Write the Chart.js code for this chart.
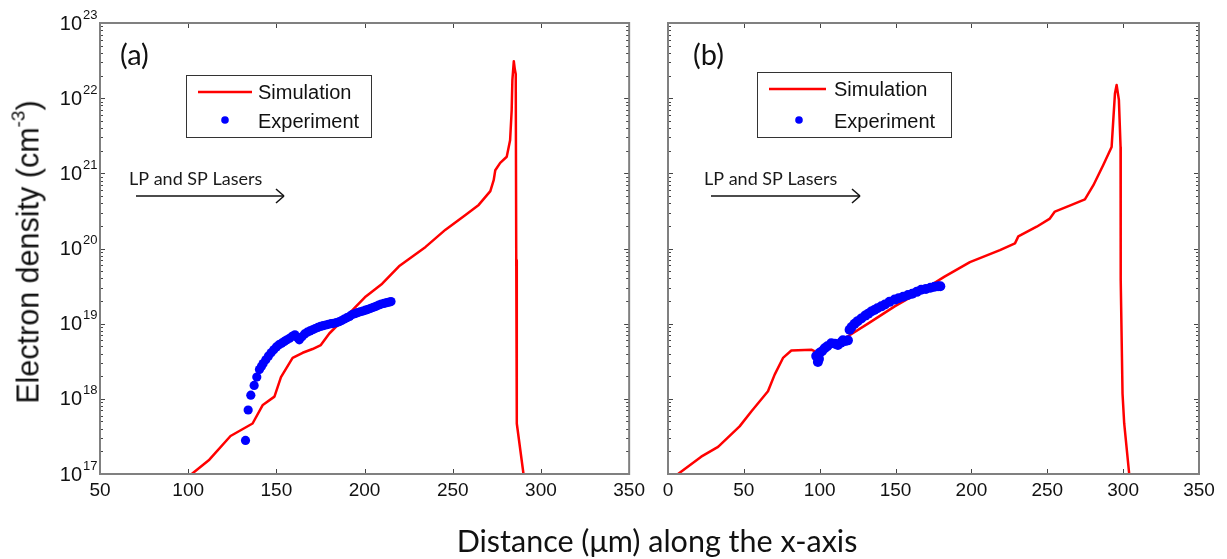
<!DOCTYPE html>
<html>
<head>
<meta charset="utf-8">
<script src="https://cdn.jsdelivr.net/npm/chart.js@4.4.0/dist/chart.umd.min.js"></script>
<style>
  body { margin: 0; background: #fff; width: 1227px; height: 559px; overflow: hidden; position: relative; font-family: "Liberation Sans", Arial, sans-serif; }
  canvas { position: absolute; top: 0; }
  #chartA { left: 0; }
  #chartB { left: 650px; }
  #ytitle { position: absolute; left: 28px; top: 252px; transform: translate(-50%, -50%) rotate(-90deg); font-size: 30.5px; white-space: nowrap; color: #111; }
  #ytitle sup { font-size: 19px; vertical-align: 14px; line-height: 0; }
  #xtitle { position: absolute; left: 657px; top: 540px; transform: translate(-50%, -50%); font-family: Lato, "Open Sans", sans-serif; font-size: 30.5px; white-space: nowrap; color: #111; }
</style>
</head>
<body>
<canvas id="chartA" width="650" height="559"></canvas>
<canvas id="chartB" width="577" height="559"></canvas>
<div id="ytitle">Electron density (cm<sup>-3</sup>)</div>
<div id="xtitle">Distance (μm) along the x-axis</div>

<script>
// ================================
// DATOS
// ================================
const seriesLabels = ["Simulation", "Experiment"];
const yTickExps = [17, 18, 19, 20, 21, 22, 23];
const xTicksA = [50, 100, 150, 200, 250, 300, 350];
const xTicksB = [0, 50, 100, 150, 200, 250, 300, 350];

// --- panel (a) ---
const simXA = [102, 112, 124, 136.5, 142.3, 148.9, 152.6, 159.2, 164.9, 170.5, 175.2, 180, 189.4, 200.7, 210,
  219.5, 234.6, 245.9, 257.2, 264.7, 271.3, 273.2, 274.1, 276.9, 280.6, 282.5, 283.4, 283.8, 284.6, 285.2,
  285.7, 286.0, 286.3, 290.1];
const simYA = [1.0e17, 1.55e17, 3.2e17, 4.7e17, 8.3e17, 1.07e18, 1.95e18, 3.5e18, 4.1e18, 4.6e18, 5.2e18, 7.4e18, 1.23e19, 2.3e19, 3.4e19,
  5.8e19, 1.05e20, 1.78e20, 2.8e20, 3.8e20, 5.8e20, 8.1e20, 1.1e21, 1.38e21, 1.66e21, 2.75e21, 6.9e21, 1.74e22, 3.1e22, 2.4e22,
  2.1e22, 7e19, 4.7e17, 1.0e17];

const expXA = [132.5, 134, 135.5, 137.4, 138.9, 140.4, 141.5, 142.5, 144, 145.5, 147, 148.5, 150, 151.5, 153, 154.5, 156, 157.5,
  159, 160.5, 162, 163, 164.5, 166, 167.5, 169, 170.5, 172, 173.5, 175, 176.5, 178, 179.5, 181, 182.5, 184, 185.5, 187,
  188.5, 190, 191.5, 193, 194.5, 196, 197.5, 199, 200.5, 202, 203.5, 205, 206.5, 208, 209.5, 211, 212.5, 214, 215];
const expYA = [2.8e17, 7.1e17, 1.12e18, 1.51e18, 1.95e18, 2.45e18, 2.7e18, 2.95e18, 3.3e18, 3.7e18, 4.1e18, 4.5e18, 4.9e18, 5.25e18, 5.5e18, 5.8e18, 6.1e18, 6.4e18,
  6.8e18, 7.1e18, 6.5e18, 6.1e18, 6.7e18, 7.3e18, 7.7e18, 8.0e18, 8.3e18, 8.6e18, 8.9e18, 9.2e18, 9.4e18, 9.6e18, 9.8e18, 1.0e19, 1.01e19, 1.03e19, 1.06e19, 1.1e19,
  1.15e19, 1.2e19, 1.25e19, 1.32e19, 1.36e19, 1.4e19, 1.44e19, 1.47e19, 1.51e19, 1.55e19, 1.6e19, 1.65e19, 1.7e19, 1.77e19, 1.82e19, 1.86e19, 1.9e19, 1.94e19, 1.97e19];

// --- panel (b) ---
const simXB = [6.6, 21.9, 33, 47.2, 54.9, 65.9, 70.3, 75.8, 81.3, 94.5, 98.8, 108, 118.6, 131.8, 149.4, 166.9, 182, 199,
  218.8, 228.7, 230.9, 243, 251.7, 255, 266, 274.8, 280.3, 286.9, 292.4, 293.5, 294.6, 295.7, 297.2, 298.3, 298.4,
  299.6, 300.7, 304];
const simYB = [1.0e17, 1.7e17, 2.3e17, 4.3e17, 6.8e17, 1.26e18, 2.1e18, 3.5e18, 4.4e18, 4.5e18, 4.1e18, 5.2e18, 6.8e18, 1.0e19, 1.7e19, 2.7e19, 4.2e19, 6.6e19,
  9.5e19, 1.17e20, 1.45e20, 1.95e20, 2.5e20, 3.1e20, 3.8e20, 4.5e20, 6.9e20, 1.29e21, 2.24e21, 5.1e21, 1.15e22, 1.5e22, 9.5e21, 2.24e21, 3.8e19,
  1.17e18, 4.7e17, 1.0e17];

const expXB = [97.7, 98.8, 99.5, 100, 101.5, 103.3, 105, 107.6, 110, 112, 114, 115.3, 117, 118.6, 119.7, 121, 123, 125, 127.4,
  130, 132, 134, 136, 138, 140.6, 143, 146, 149.4, 152, 155, 158.2, 161, 164, 166.9, 170, 173, 175.7, 178, 179.5];
const expYB = [3.7e18, 3.1e18, 3.4e18, 4.1e18, 4.3e18, 4.7e18, 5.0e18, 5.5e18, 5.4e18, 5.2e18, 5.6e18, 6.0e18, 5.9e18, 6.0e18, 8.3e18, 9.0e18, 1.0e19, 1.08e19, 1.17e19,
  1.28e19, 1.36e19, 1.45e19, 1.52e19, 1.6e19, 1.7e19, 1.8e19, 1.95e19, 2.09e19, 2.18e19, 2.28e19, 2.4e19, 2.5e19, 2.65e19, 2.82e19, 2.9e19, 3.0e19, 3.09e19, 3.15e19, 3.15e19];

const ROJO = "#ff0000";
const AZUL = "#0000ff";

// ================================
// PLUGIN: marco, ticks internos, etiquetas, leyenda y flecha
// ================================
const decoPanel = {
  id: "decoPanel",
  afterDraw(chart, args, o) {
    const { ctx, chartArea: a, scales: { x, y } } = chart;
    ctx.save();

    // ticks internos
    ctx.strokeStyle = "#444";
    ctx.lineWidth = 1;
    const linea = (x1, y1, x2, y2) => { ctx.beginPath(); ctx.moveTo(x1, y1); ctx.lineTo(x2, y2); ctx.stroke(); };
    o.xTicks.forEach((v) => {
      const px = Math.round(x.getPixelForValue(v)) + 0.5;
      if (px < a.left + 2 || px > a.right - 2) return;
      linea(px, a.bottom, px, a.bottom - 5);
      linea(px, a.top, px, a.top + 5);
    });
    yTickExps.forEach((e) => {
      const py = Math.round(y.getPixelForValue(Math.pow(10, e))) + 0.5;
      if (e > yTickExps[0] && e < yTickExps[yTickExps.length - 1]) {
        linea(a.left, py, a.left + 5, py);
        linea(a.right, py, a.right - 5, py);
      }
      if (e === yTickExps[yTickExps.length - 1]) return;
      for (let m = 2; m <= 9; m++) {
        const pm = Math.round(y.getPixelForValue(m * Math.pow(10, e))) + 0.5;
        linea(a.left, pm, a.left + 3, pm);
        linea(a.right, pm, a.right - 3, pm);
      }
    });

    // marco gris
    ctx.strokeStyle = "#808080";
    ctx.lineWidth = 2;
    ctx.strokeRect(a.left, a.top, a.right - a.left, a.bottom - a.top);

    // etiquetas del eje y (10 con exponente)
    if (o.yLabels) {
      ctx.fillStyle = "#111";
      yTickExps.forEach((e) => {
        const py = y.getPixelForValue(Math.pow(10, e));
        ctx.font = '20px "Liberation Sans", Arial';
        ctx.textAlign = "right";
        ctx.textBaseline = "middle";
        ctx.fillText("10", a.left - 18, py + 1);
        ctx.font = '13px "Liberation Sans", Arial';
        ctx.textAlign = "left";
        ctx.fillText(String(e), a.left - 17, py - 8);
      });
    }

    // letra del panel
    ctx.fillStyle = "#111";
    ctx.font = '29px Lato, "Open Sans"';
    ctx.textAlign = "left";
    ctx.textBaseline = "middle";
    ctx.fillText(o.letra, o.letraX, 56);

    // leyenda
    const L = o.leyenda;
    ctx.fillStyle = "#fff";
    ctx.fillRect(L.x, L.y, L.w, L.h);
    ctx.strokeStyle = "#333";
    ctx.lineWidth = 1;
    ctx.strokeRect(L.x + 0.5, L.y + 0.5, L.w, L.h);
    ctx.strokeStyle = ROJO;
    ctx.lineWidth = 2.5;
    linea(L.lx1, L.ly1, L.lx2, L.ly1);
    ctx.fillStyle = AZUL;
    ctx.beginPath();
    ctx.arc(L.dx, L.ly2, 3.8, 0, Math.PI * 2);
    ctx.fill();
    ctx.fillStyle = "#111";
    ctx.font = '20px "Liberation Sans", Arial';
    ctx.textAlign = "left";
    ctx.textBaseline = "middle";
    ctx.fillText(seriesLabels[0], L.tx, L.ly1 + 1);
    ctx.fillText(seriesLabels[1], L.tx, L.ly2 + 2);

    // texto y flecha de los láseres
    const F = o.flecha;
    ctx.fillStyle = "#1a1a1a";
    ctx.font = '18px Lato, "Open Sans"';
    ctx.textBaseline = "alphabetic";
    ctx.fillText("LP and SP Lasers", F.tx, 185);
    ctx.strokeStyle = "#111";
    ctx.lineWidth = 1.5;
    linea(F.x1, 196, F.x2, 196);
    linea(F.x2 - 8, 189, F.x2, 196);
    linea(F.x2 - 8, 203, F.x2, 196);

    ctx.restore();
  },
};

// ================================
// CREAR PANEL
// ================================
function crearPanel(id, simX, simY, expX, expY, xMin, xTicks, anchoY, padDer, radio, deco) {
  return new Chart(document.getElementById(id), {
    type: "scatter",
    data: {
      datasets: [
        {
          label: seriesLabels[1],
          data: expX.map((v, i) => ({ x: v, y: expY[i] })),
          backgroundColor: AZUL,
          borderWidth: 0,
          pointRadius: radio,
          order: 0,
        },
        {
          label: seriesLabels[0],
          data: simX.map((v, i) => ({ x: v, y: simY[i] })),
          showLine: true,
          borderColor: ROJO,
          borderWidth: 2.5,
          borderJoinStyle: "round",
          borderCapStyle: "round",
          pointRadius: 0,
          tension: 0,
          order: 1,
        },
      ],
    },
    options: {
      responsive: false,
      animation: false,
      devicePixelRatio: 1,
      layout: { padding: { left: 0, right: padDer, top: 23, bottom: 0 } },
      plugins: {
        legend: { display: false },
        tooltip: { enabled: false },
        decoPanel: deco,
      },
      scales: {
        x: {
          type: "linear",
          min: xMin,
          max: 350,
          afterBuildTicks: (s) => { s.ticks = xTicks.map((v) => ({ value: v })); },
          ticks: { color: "#111", font: { family: '"Liberation Sans", Arial', size: 19 }, padding: 5, maxRotation: 0, autoSkip: false },
          grid: { display: false, drawTicks: false },
          border: { display: false },
          afterFit: (s) => { s.height = 85; },
        },
        y: {
          type: "logarithmic",
          min: 1e17,
          max: 1e23,
          ticks: { display: false },
          grid: { display: false, drawTicks: false },
          border: { display: false },
          afterFit: (s) => { s.width = anchoY; },
        },
      },
    },
    plugins: [decoPanel],
  });
}

crearPanel("chartA", simXA, simYA, expXA, expYA, 50, xTicksA, 100, 19, 4.6, {
  xTicks: xTicksA, yLabels: true, letra: "(a)", letraX: 120,
  leyenda: { x: 186, y: 75, w: 185, h: 62, lx1: 198, lx2: 252, ly1: 92, ly2: 120, dx: 225, tx: 258 },
  flecha: { tx: 129, x1: 136, x2: 284 },
});

crearPanel("chartB", simXB, simYB, expXB, expYB, 0, xTicksB, 18, 28, 5, {
  xTicks: xTicksB, yLabels: false, letra: "(b)", letraX: 43,
  leyenda: { x: 107, y: 72, w: 194, h: 65, lx1: 119, lx2: 176, ly1: 89, ly2: 120, dx: 149, tx: 184 },
  flecha: { tx: 54, x1: 61, x2: 210 },
});
</script>
</body>
</html>
